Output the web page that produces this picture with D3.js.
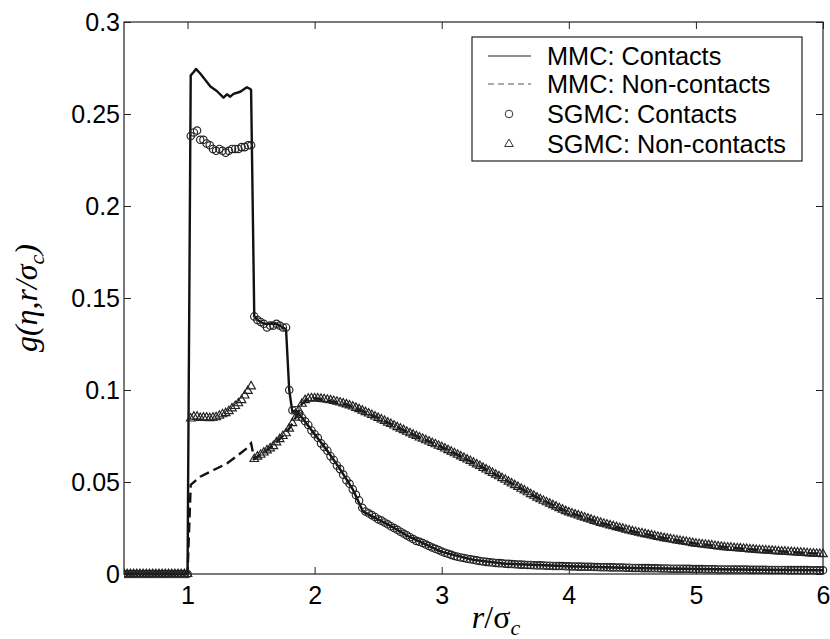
<!DOCTYPE html>
<html>
<head>
<meta charset="utf-8">
<script src="https://cdn.jsdelivr.net/npm/d3@7"></script>
<style>
  body { margin: 0; background: #fff; }
  svg { display: block; }
  .tick text { font-family: "Liberation Sans", Arial, sans-serif; font-size: 25px; fill: #000; }
</style>
</head>
<body>
<svg width="830" height="639"></svg>
<script>
// ---- data ----
// SGMC samples are on a regular grid r = 0.5, 0.525, ... 6.0
var rStart = 0.5, rStep = 0.025;

var sgmcContacts = [
  0, 0, 0, 0, 0, 0, 0, 0, 0, 0,
  0, 0, 0, 0, 0, 0, 0, 0, 0, 0,
  0, .238, .240, .241, .236, .236, .234, .233, .231, .230,
  .231, .230, .229, .230, .231, .231, .231, .232, .232, .233,
  .233, .140, .138, .137, .136, .134, .135, .135, .136, .135,
  .134, .134, .100, .089, .089, .087, .085, .083, .081, .078,
  .076, .074, .071, .069, .067, .064, .062, .059, .057, .054,
  .051, .049, .046, .043, .040, .036, .034, .033, .032, .031,
  .0297, .029, .028, .027, .026, .025, .024, .023, .022, .021,
  .020, .019, .018, .0175, .0168, .016, .0152, .0144, .0137, .013,
  .0122, .0116, .011, .0104, .0098, .0094, .009, .0087, .0083, .008,
  .0077, .0074, .0071, .0068, .0066, .0064, .0062, .006, .0059, .0058,
  .0056, .0055, .0054, .0053, .0052, .0051, .0050, .0049, .0049, .0048,
  .0047, .0047, .0046, .0045, .0045, .0044, .0044, .0043, .0043, .0042,
  .0042, .0041, .0041, .0040, .0040, .0039, .0039, .0039, .0038, .0038,
  .0037, .0037, .0037, .0036, .0036, .0035, .0035, .0035, .0034, .0034,
  .0033, .0033, .0033, .0032, .0032, .0032, .0031, .0031, .0031, .0030,
  .0030, .0030, .0029, .0029, .0029, .0029, .0028, .0028, .0028, .0027,
  .0027, .0027, .0027, .0026, .0026, .0026, .0026, .0025, .0025, .0025,
  .0025, .0025, .0024, .0024, .0024, .0024, .0024, .0023, .0023, .0023,
  .0023, .0023, .0023, .0022, .0022, .0022, .0022, .0022, .0022, .0021,
  .0021, .0021, .0021, .0021, .0021, .0021, .0020, .0020, .0020, .0020,
  .0020
];

var sgmcNonContacts = [
  0, 0, 0, 0, 0, 0, 0, 0, 0, 0,
  0, 0, 0, 0, 0, 0, 0, 0, 0, 0,
  0, .0845, .0855, .0855, .0848, .0850, .0850, .0847, .0850, .0852,
  .0860, .0868, .0874, .0885, .0900, .0913, .0928, .0945, .0970, .0995,
  .1020, .0625, .0638, .0648, .0660, .0672, .0683, .0695, .0715, .0733,
  .0750, .0765, .0790, .0820, .0850, .0890, .0925, .0945, .0953, .0955,
  .0955, .0954, .0952, .0950, .0947, .0944, .0940, .0936, .0932, .0927,
  .0922, .0916, .0910, .0903, .0896, .0888, .0880, .0872, .0864, .0856,
  .0848, .0840, .0832, .0823, .0815, .0807, .0798, .0790, .0782, .0773,
  .0765, .0757, .0750, .0742, .0735, .0727, .0720, .0712, .0705, .0697,
  .0690, .0682, .0673, .0665, .0656, .0648, .0639, .0631, .0622, .0614,
  .0605, .0596, .0587, .0577, .0568, .0559, .0549, .0540, .0531, .0521,
  .0512, .0502, .0492, .0483, .0473, .0463, .0454, .0444, .0434, .0425,
  .0415, .0406, .0398, .0390, .0382, .0374, .0366, .0358, .0350, .0342,
  .0335, .0329, .0323, .0318, .0312, .0306, .0301, .0295, .0289, .0284,
  .0278, .0273, .0269, .0264, .0260, .0255, .0250, .0246, .0241, .0237,
  .0232, .0228, .0224, .0221, .0217, .0213, .0210, .0206, .0202, .0199,
  .0195, .0192, .0189, .0186, .0183, .0180, .0177, .0174, .0171, .0168,
  .0165, .0163, .0161, .0159, .0157, .0155, .0152, .0150, .0148, .0146,
  .0144, .0143, .0141, .0140, .0139, .0137, .0136, .0134, .0133, .0131,
  .0130, .0129, .0128, .0127, .0126, .0124, .0123, .0122, .0121, .0120,
  .0119, .0118, .0117, .0116, .0115, .0113, .0112, .0111, .0110, .0109,
  .0108
];

// MMC curves: break points of the drawn lines
var mmcContactsR = [0.5, 1.0, 1.025, 1.05, 1.066, 1.1, 1.14, 1.18, 1.23, 1.283, 1.31, 1.336, 1.362,
  1.415, 1.467, 1.494, 1.5, 1.525, 1.55, 1.6, 1.65, 1.7, 1.75, 1.775, 1.8, 1.825, 1.85, 1.9,
  2.0, 2.1, 2.2, 2.3, 2.38, 2.5, 2.6, 2.75, 3.0, 3.25, 3.5, 4.0, 4.5, 5.0, 5.5, 6.0];
var mmcContacts = [0, 0, .271, .273, .2745, .272, .2685, .2649, .2625, .2589, .2607, .2594, .2609,
  .2621, .2645, .2636, .263, .140, .138, .136, .136, .136, .134, .133, .100, .088, .089, .085,
  .076, .067, .057, .046, .034, .0297, .026, .020, .012, .0077, .0056, .0042, .0033, .0027, .0023, .0020];

var mmcNonContactsR = [0.5, 1.0, 1.025, 1.1, 1.205, 1.31, 1.4, 1.467, 1.5, 1.525, 1.6, 1.7, 1.75,
  1.8, 1.85, 1.9, 1.95, 2.0, 2.25, 2.5, 2.75, 3.0, 3.25, 3.5, 3.75, 4.0, 4.25, 4.5, 4.75,
  5.0, 5.25, 5.5, 5.75, 6.0];
var mmcNonContacts = [0, 0, .0485, .0529, .0565, .0601, .0647, .0683, .0710, .0625, .0660, .0715, .0750,
  .0790, .0850, .0925, .0953, .0955, .0922, .0848, .0765, .0690, .0605, .0512, .0415, .0335, .0278,
  .0232, .0195, .0165, .0144, .0130, .0119, .0108];

var xTicks = [1, 2, 3, 4, 5, 6];
var yTicks = [0, 0.05, 0.1, 0.15, 0.2, 0.25, 0.3];
var legendLabels = ['MMC: Contacts', 'MMC: Non-contacts', 'SGMC: Contacts', 'SGMC: Non-contacts'];

// ---- layout ----
var svg = d3.select('svg');
var plotL = 124, plotR = 823, plotT = 22, plotB = 574;

var x = d3.scaleLinear().domain([0.5, 6]).range([plotL, plotR]);
var y = d3.scaleLinear().domain([0, 0.3]).range([plotB, plotT]);

var rGrid = sgmcContacts.map(function(d, i) { return rStart + i * rStep; });

svg.append('defs').append('clipPath').attr('id', 'plotclip')
  .append('rect').attr('x', plotL).attr('y', plotT - 5).attr('width', plotR - plotL + 5).attr('height', plotB - plotT + 10);

// axes, ticks pointing inward
var tickLen = 7;
svg.append('g').attr('transform', 'translate(0,' + plotB + ')')
  .call(d3.axisBottom(x).tickValues(xTicks).tickFormat(d3.format('d')).tickSizeInner(-tickLen).tickSizeOuter(0).tickPadding(12));
svg.append('g').attr('transform', 'translate(0,' + plotT + ')')
  .call(d3.axisTop(x).tickValues(xTicks).tickFormat('').tickSizeInner(-tickLen).tickSizeOuter(0));
svg.append('g').attr('transform', 'translate(' + plotL + ',0)')
  .call(d3.axisLeft(y).tickValues(yTicks).tickFormat(function(d) { return d === 0 ? '0' : String(+d.toFixed(2)); })
    .tickSizeInner(-tickLen).tickSizeOuter(0).tickPadding(4));
svg.append('g').attr('transform', 'translate(' + plotR + ',0)')
  .call(d3.axisRight(y).tickValues(yTicks).tickFormat('').tickSizeInner(-tickLen).tickSizeOuter(0));

svg.selectAll('.domain').remove();
svg.selectAll('.tick line').attr('stroke', '#222').attr('stroke-width', 1);

svg.append('rect')
  .attr('x', plotL).attr('y', plotT).attr('width', plotR - plotL).attr('height', plotB - plotT)
  .attr('fill', 'none').attr('stroke', '#222').attr('stroke-width', 1.2);

// ---- curves ----
var plot = svg.append('g').attr('clip-path', 'url(#plotclip)');

var line = d3.line().x(function(d) { return x(d[0]); }).y(function(d) { return y(d[1]); });

plot.append('path')
  .datum(d3.zip(mmcContactsR, mmcContacts))
  .attr('d', line)
  .attr('fill', 'none').attr('stroke', '#111').attr('stroke-width', 2.4).attr('stroke-linejoin', 'round');

plot.append('path')
  .datum(d3.zip(mmcNonContactsR, mmcNonContacts))
  .attr('d', line)
  .attr('fill', 'none').attr('stroke', '#111').attr('stroke-width', 2.4)
  .attr('stroke-dasharray', '10,5');

plot.selectAll('circle.sgmc')
  .data(d3.zip(rGrid, sgmcContacts))
  .enter().append('circle')
  .attr('class', 'sgmc')
  .attr('cx', function(d) { return x(d[0]); })
  .attr('cy', function(d) { return y(d[1]); })
  .attr('r', 3.7)
  .attr('fill', 'none').attr('stroke', '#222').attr('stroke-width', 1.15);

var tri = d3.symbol().type(d3.symbolTriangle).size(32);
plot.selectAll('path.tri')
  .data(d3.zip(rGrid, sgmcNonContacts))
  .enter().append('path')
  .attr('class', 'tri')
  .attr('d', tri)
  .attr('transform', function(d) { return 'translate(' + x(d[0]) + ',' + y(d[1]) + ')'; })
  .attr('fill', 'none').attr('stroke', '#222').attr('stroke-width', 1.15);

// ---- axis labels ----
var xl = svg.append('text')
  .attr('x', 496).attr('y', 628)
  .attr('text-anchor', 'middle')
  .style('font-family', '"Liberation Serif", "Times New Roman", serif')
  .style('font-size', '32px').attr('fill', '#000');
xl.append('tspan').style('font-style', 'italic').text('r');
xl.append('tspan').text('/σ');
xl.append('tspan').style('font-style', 'italic').style('font-size', '22px').attr('dy', 7).text('c');

var yl = svg.append('text')
  .attr('transform', 'translate(37,298) rotate(-90)')
  .attr('text-anchor', 'middle')
  .style('font-family', '"Liberation Serif", "Times New Roman", serif')
  .style('font-size', '32px').style('font-style', 'italic').attr('fill', '#000');
yl.append('tspan').text('g(η,r/σ');
yl.append('tspan').style('font-size', '22px').attr('dy', 7).text('c');
yl.append('tspan').attr('dy', -7).text(')');

// ---- legend ----
var lg = svg.append('g');
lg.append('rect')
  .attr('x', 472).attr('y', 37).attr('width', 330).attr('height', 124)
  .attr('fill', '#fff').attr('stroke', '#222').attr('stroke-width', 1.2);

var rowY = [56, 84, 114, 144];
lg.append('line').attr('x1', 488).attr('x2', 531).attr('y1', rowY[0]).attr('y2', rowY[0])
  .attr('stroke', '#222').attr('stroke-width', 1.2);
lg.append('line').attr('x1', 488).attr('x2', 531).attr('y1', rowY[1]).attr('y2', rowY[1])
  .attr('stroke', '#555').attr('stroke-width', 1.1).attr('stroke-dasharray', '6,4');
lg.append('circle').attr('cx', 509).attr('cy', rowY[2]).attr('r', 3.8)
  .attr('fill', 'none').attr('stroke', '#333').attr('stroke-width', 1);
lg.append('path').attr('d', tri).attr('transform', 'translate(509,' + rowY[3] + ')')
  .attr('fill', 'none').attr('stroke', '#333').attr('stroke-width', 1);

lg.selectAll('text.lab')
  .data(legendLabels)
  .enter().append('text')
  .attr('class', 'lab')
  .attr('x', 547)
  .attr('y', function(d, i) { return rowY[i]; })
  .attr('dy', '0.36em')
  .style('font-family', '"Liberation Sans", Arial, sans-serif')
  .style('font-size', '25.3px').attr('fill', '#000')
  .text(function(d) { return d; });
</script>
</body>
</html>
